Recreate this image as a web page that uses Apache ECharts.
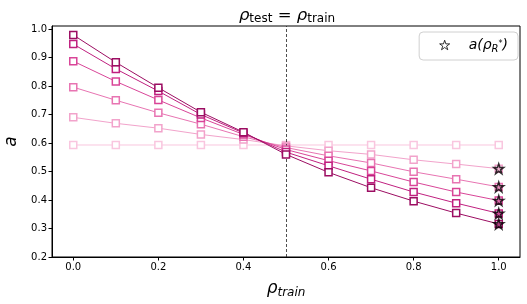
<!DOCTYPE html>
<html>
<head>
<meta charset="utf-8">
<script src="https://cdn.jsdelivr.net/npm/echarts@6/dist/echarts.min.js"></script>
<style>html,body{margin:0;padding:0;background:#fff}#c{width:527px;height:304px}</style>
</head>
<body>
<div id="c"></div>
<script>
const xValues = [0.0, 0.1, 0.2, 0.3, 0.4, 0.5, 0.6, 0.7, 0.8, 0.9, 1.0];
const xTicks = [0.0, 0.2, 0.4, 0.6, 0.8, 1.0];
const yTicks = [0.2, 0.3, 0.4, 0.5, 0.6, 0.7, 0.8, 0.9, 1.0];
const s1 = [0.593, 0.593, 0.593, 0.593, 0.593, 0.593, 0.593, 0.593, 0.593, 0.593, 0.593];
const s2 = [0.690, 0.669, 0.652, 0.630, 0.612, 0.590, 0.573, 0.560, 0.541, 0.526, 0.510];
const s3 = [0.796, 0.750, 0.706, 0.666, 0.622, 0.584, 0.555, 0.530, 0.499, 0.473, 0.446];
const s4 = [0.887, 0.816, 0.751, 0.688, 0.630, 0.577, 0.538, 0.502, 0.463, 0.428, 0.398];
const s5 = [0.947, 0.860, 0.782, 0.700, 0.635, 0.568, 0.520, 0.473, 0.428, 0.389, 0.353];
const s6 = [0.979, 0.883, 0.794, 0.708, 0.638, 0.560, 0.497, 0.443, 0.396, 0.354, 0.316];
const seriesValues = [s1, s2, s3, s4, s5, s6];
const colors = ['#f9c6df', '#f2a3cb', '#e874b2', '#d94598', '#c0207f', '#9c0d62'];
const starSeriesIdx = [1, 2, 3, 4, 5];
const dashedX = 0.5;
const legendLabel = 'a(ρR*)';

const STAR = 'path://M50,0 L61.8,35.5 L99,35.5 L69,57.5 L80.5,93 L50,71 L19.5,93 L31,57.5 L1,35.5 L38.2,35.5 Z';
const font = 'DejaVu Sans';

const series = [];
seriesValues.forEach((vals, i) => {
  series.push({
    type: 'line',
    data: xValues.map((x, j) => [x, vals[j]]),
    symbol: 'rect',
    symbolSize: 7,
    showAllSymbol: true,
    lineStyle: { color: colors[i], width: 1 },
    itemStyle: { color: '#fff', borderColor: colors[i], borderWidth: 1.5 },
    emphasis: { disabled: true },
    z: 2 + i,
    animation: false
  });
});
starSeriesIdx.forEach(i => {
  const vals = seriesValues[i];
  const last = vals.length - 1;
  series.push({
    type: 'scatter',
    data: [[xValues[last], vals[last]]],
    symbol: STAR,
    symbolSize: 10,
    itemStyle: { color: colors[i], borderColor: '#000', borderWidth: 1.5 },
    z: 20,
    animation: false
  });
});
series.push({
  type: 'line',
  data: [],
  markLine: {
    symbol: 'none',
    silent: true,
    label: { show: false },
    lineStyle: { color: '#222', type: [3, 2], width: 0.8 },
    data: [{ xAxis: dashedX }],
    animation: false
  }
});
series.push({
  name: legendLabel,
  type: 'scatter',
  data: [],
  symbol: STAR,
  itemStyle: { color: '#fff', borderColor: '#000', borderWidth: 1 }
});

const chart = echarts.init(document.getElementById('c'), null, { renderer: 'canvas' });
chart.setOption({
  animation: false,
  backgroundColor: '#fff',
  textStyle: { fontFamily: font },
  title: {
    text: '{r|ρ}{s|test}{e| = }{r|ρ}{s|train}',
    left: 282,
    textAlign: 'center',
    top: 1,
    textStyle: {
      fontWeight: 'normal',
      rich: {
        r: { fontFamily: font, fontStyle: 'italic', fontWeight: 'normal', fontSize: 16.5, color: '#000', lineHeight: 19 },
        s: { fontFamily: font, fontWeight: 'normal', fontSize: 12, color: '#000', lineHeight: 19, verticalAlign: 'bottom', padding: [7, 0, 0, 0] },
        e: { fontFamily: font, fontWeight: 'normal', fontSize: 16.5, color: '#000', lineHeight: 19 }
      }
    }
  },
  legend: {
    show: true,
    right: 9,
    top: 32,
    itemWidth: 10,
    itemHeight: 10,
    itemGap: 10,
    padding: [6, 10, 6, 20],
    backgroundColor: '#fff',
    borderColor: '#d0d0d0',
    borderWidth: 1,
    borderRadius: 4,
    data: [{ name: legendLabel, icon: STAR, itemStyle: { color: '#fff', borderColor: '#000', borderWidth: 1 } }],
    formatter: () => '{a|a(ρ}{s|R}{p|*}{a|)}',
    textStyle: {
      padding: [0, 0, 0, 14],
      rich: {
        a: { fontFamily: font, fontStyle: 'italic', fontSize: 14, color: '#000', lineHeight: 18 },
        s: { fontFamily: font, fontStyle: 'italic', fontSize: 10, color: '#000', lineHeight: 18, verticalAlign: 'bottom', padding: [6, 0, 0, 0] },
        p: { fontFamily: font, fontSize: 8, color: '#000', lineHeight: 18, padding: [0, 0, 2, 0] }
      }
    }
  },
  grid: {
    left: 52, right: 7, top: 26, bottom: 47,
    containLabel: false,
    outerBoundsMode: 'none',
    show: true, borderColor: '#000', borderWidth: 1, backgroundColor: 'transparent'
  },
  xAxis: {
    type: 'value',
    min: -0.05,
    max: 1.05,
    name: '{r|ρ}{s|train}',
    nameLocation: 'middle',
    nameGap: 22,
    nameTextStyle: {
      rich: {
        r: { fontFamily: font, fontStyle: 'italic', fontSize: 17, color: '#000', lineHeight: 20 },
        s: { fontFamily: font, fontStyle: 'italic', fontSize: 12, color: '#000', lineHeight: 20, verticalAlign: 'bottom', padding: [8, 0, 0, 0] }
      }
    },
    splitLine: { show: false },
    axisLine: { show: true, onZero: false, lineStyle: { color: '#000', width: 1 } },
    axisTick: { show: true, length: 3.5, lineStyle: { color: '#000' }, customValues: xTicks },
    axisLabel: { customValues: xTicks, color: '#000', fontSize: 10, margin: 5, formatter: v => v.toFixed(1) }
  },
  yAxis: {
    type: 'value',
    min: 0.2,
    max: 1.0105,
    name: 'a',
    nameLocation: 'middle',
    nameGap: 29,
    nameRotate: 90,
    nameTextStyle: { fontFamily: font, fontStyle: 'italic', fontSize: 17, color: '#000' },
    splitLine: { show: false },
    axisLine: { show: true, onZero: false, lineStyle: { color: '#000', width: 1 } },
    axisTick: { show: true, length: 3.5, lineStyle: { color: '#000' }, customValues: yTicks },
    axisLabel: { customValues: yTicks, color: '#000', fontSize: 10, margin: 5, formatter: v => v.toFixed(1) }
  },
  series: series
});
</script>
</body>
</html>
